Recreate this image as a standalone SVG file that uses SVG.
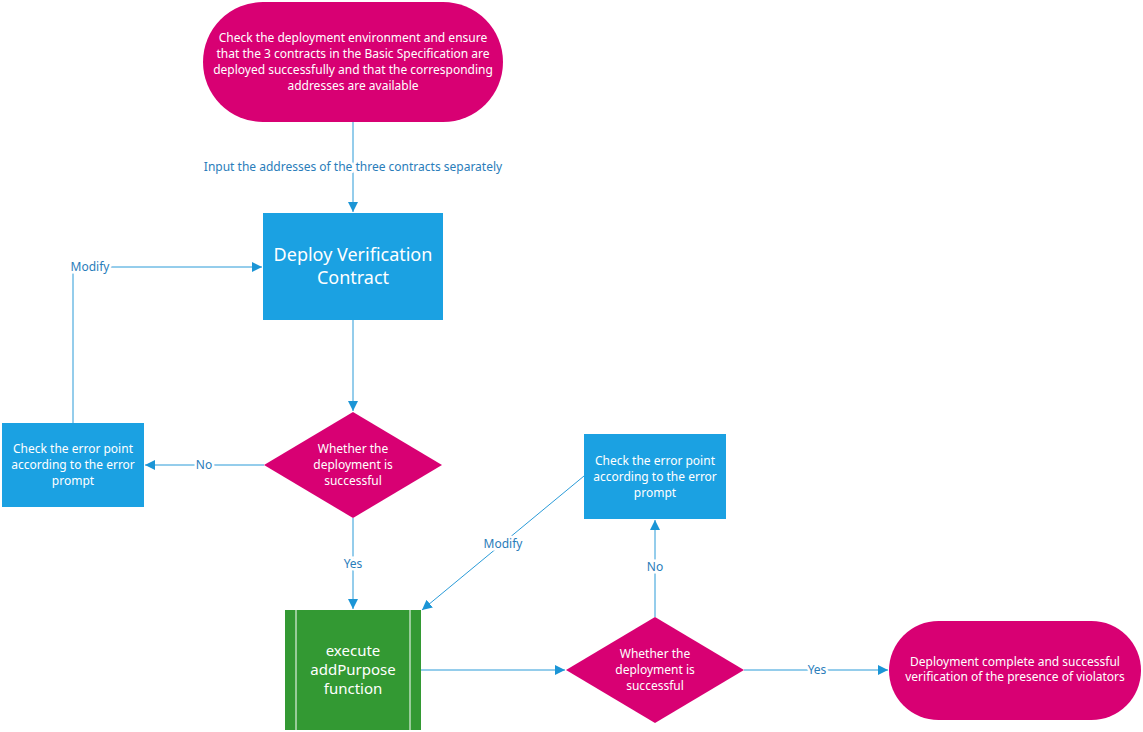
<svg xmlns="http://www.w3.org/2000/svg" width="1143" height="732" viewBox="0 0 1143 732">
<style>
.pink{fill:#D80073}
.blue{fill:#1BA1E2}
.green{fill:#339933}
.t{font-family:"Segoe UI","Noto Sans","Open Sans",sans-serif;fill:#fff;text-anchor:middle}
.s{font-size:12px}
.big{font-size:18px}
.mid{font-size:15px}
.lbl{font-family:"Segoe UI","Noto Sans","Open Sans",sans-serif;font-size:12px;fill:#2A7DBA;text-anchor:middle;stroke:#fff;stroke-width:5px;paint-order:stroke}
.c{fill:none;stroke:#2A9BD8;stroke-width:1}
</style>
<defs>
<marker id="ah" viewBox="0 0 10 10" refX="10" refY="5" markerWidth="10" markerHeight="10" markerUnits="userSpaceOnUse" orient="auto">
<path d="M0,0 L10,5 L0,10 z" fill="#1B95D6"/>
</marker>
</defs>
<g id="connectors">
<path class="c" d="M353,122 V212" marker-end="url(#ah)"/>
<path class="c" d="M353,320 V411" marker-end="url(#ah)"/>
<path class="c" d="M264,465 H145" marker-end="url(#ah)"/>
<path class="c" d="M73,423 V267 H262" marker-end="url(#ah)"/>
<path class="c" d="M353,518 V609" marker-end="url(#ah)"/>
<path class="c" d="M421,670 H565" marker-end="url(#ah)"/>
<path class="c" d="M744,670 H888" marker-end="url(#ah)"/>
<path class="c" d="M655,617 V520" marker-end="url(#ah)"/>
<path class="c" d="M584,476 L422,610" marker-end="url(#ah)"/>
<text class="lbl" x="353" y="171">Input the addresses of the three contracts separately</text>
<text class="lbl" x="204" y="469">No</text>
<text class="lbl" x="90" y="271">Modify</text>
<text class="lbl" x="353" y="568">Yes</text>
<text class="lbl" x="817" y="674">Yes</text>
<text class="lbl" x="655" y="571">No</text>
<text class="lbl" x="503" y="548">Modify</text>
</g>
<g id="start">
<rect class="pink" x="203" y="2" width="300" height="120" rx="60" ry="60"/>
<text class="t s" x="353" y="42">Check the deployment environment and ensure</text>
<text class="t s" x="353" y="58">that the 3 contracts in the Basic Specification are</text>
<text class="t s" x="353" y="74">deployed successfully and that the corresponding</text>
<text class="t s" x="353" y="90">addresses are available</text>
</g>
<g id="deploy">
<rect class="blue" x="263" y="213" width="180" height="107"/>
<text class="t big" x="353" y="261">Deploy Verification</text>
<text class="t big" x="353" y="284">Contract</text>
</g>
<g id="decision1">
<polygon class="pink" points="353,412 442,465 353,518 264,465"/>
<text class="t s" x="353" y="453">Whether the</text>
<text class="t s" x="353" y="469">deployment is</text>
<text class="t s" x="353" y="485">successful</text>
</g>
<g id="error1">
<rect class="blue" x="2" y="423" width="142" height="84"/>
<text class="t s" x="73" y="453">Check the error point</text>
<text class="t s" x="73" y="469">according to the error</text>
<text class="t s" x="73" y="485">prompt</text>
</g>
<g id="execute">
<rect class="green" x="285" y="610" width="136" height="120"/>
<line x1="296" y1="610" x2="296" y2="730" stroke="#fff" stroke-width="1"/>
<line x1="410" y1="610" x2="410" y2="730" stroke="#fff" stroke-width="1"/>
<text class="t mid" x="353" y="656">execute</text>
<text class="t mid" x="353" y="675">addPurpose</text>
<text class="t mid" x="353" y="694">function</text>
</g>
<g id="decision2">
<polygon class="pink" points="655,617 744,670 655,723 566,670"/>
<text class="t s" x="655" y="658">Whether the</text>
<text class="t s" x="655" y="674">deployment is</text>
<text class="t s" x="655" y="690">successful</text>
</g>
<g id="error2">
<rect class="blue" x="584" y="434" width="142" height="85"/>
<text class="t s" x="655" y="465">Check the error point</text>
<text class="t s" x="655" y="481">according to the error</text>
<text class="t s" x="655" y="497">prompt</text>
</g>
<g id="end">
<rect class="pink" x="889" y="621" width="252" height="99" rx="49.5" ry="49.5"/>
<text class="t s" x="1015" y="666">Deployment complete and successful</text>
<text class="t s" x="1015" y="681">verification of the presence of violators</text>
</g>
</svg>
